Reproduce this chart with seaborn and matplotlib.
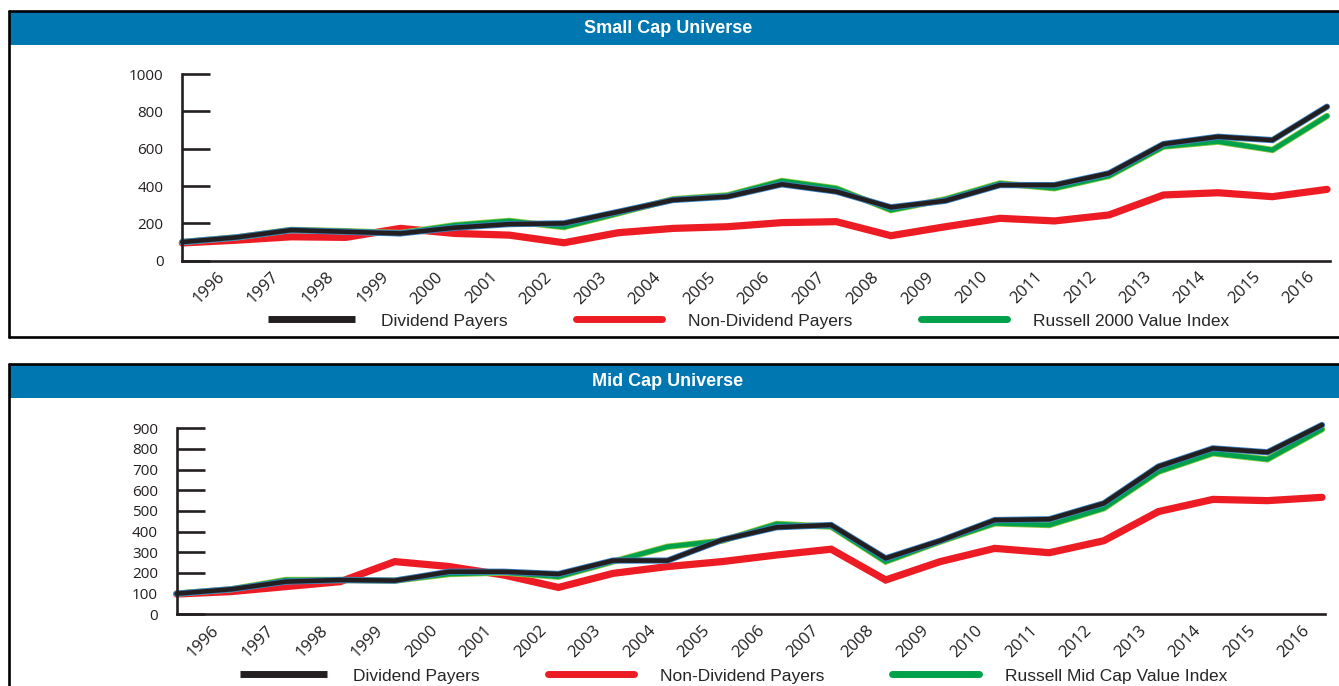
import numpy as np
import pandas as pd
import matplotlib
matplotlib.use('Agg')
import matplotlib.pyplot as plt
import matplotlib.patheffects as pe
import matplotlib.transforms as mtransforms
from matplotlib.lines import Line2D
from matplotlib.patches import Rectangle
import seaborn as sns

# step 0 is the starting value, steps 1..21 are year-ends 1996..2016
steps = list(range(22))
years = [str(y) for y in range(1996, 2017)]

small_div = [100, 125, 164, 155, 146, 177, 196, 200, 262, 325, 343, 409, 370, 286, 321, 405, 405, 468, 625, 664, 646, 825]
small_non = [95, 110, 128, 125, 173, 146, 137, 96, 150, 173, 182, 204, 209, 134, 182, 227, 213, 245, 352, 364, 343, 382]
small_idx = [100, 125, 165, 158, 148, 190, 213, 180, 254, 329, 350, 427, 387, 271, 329, 414, 388, 454, 611, 638, 593, 775]

mid_div = [100, 121, 158, 166, 163, 206, 206, 195, 260, 260, 360, 421, 432, 271, 356, 456, 460, 537, 715, 803, 784, 916]
mid_non = [98, 110, 134, 158, 255, 231, 190, 130, 198, 231, 255, 287, 315, 166, 255, 319, 298, 356, 497, 556, 550, 566]
mid_idx = [100, 121, 166, 166, 163, 195, 202, 182, 255, 327, 356, 437, 424, 255, 352, 440, 432, 513, 690, 779, 750, 895]

BLACK = '#231f20'
RED = '#ed1c24'
GREEN = '#00a14b'
HEADER = '#0077b0'

sns.set_style('white')
plt.rcParams['font.family'] = ['Open Sans', 'DejaVu Sans']

W, H = 1339, 686
fig = plt.figure(figsize=(W / 100, H / 100), dpi=100)


def fx(px):
    return px / W


def fy(py):
    return 1 - py / H


def draw_panel(rect, div, non, idx, ymax, yticks, idx_label, legend_xy, title, header_y):
    ax = fig.add_axes(rect)
    df = pd.DataFrame({'step': steps * 3,
                       'value': non + idx + div,
                       'series': ['Non-Dividend Payers'] * 22 + [idx_label] * 22 + ['Dividend Payers'] * 22})
    # red drawn first, black on top
    sns.lineplot(data=df, x='step', y='value', hue='series',
                 hue_order=['Non-Dividend Payers', idx_label, 'Dividend Payers'],
                 palette=[RED, GREEN, BLACK], legend=False, ax=ax)
    lines = ax.get_lines()
    lines[0].set_linewidth(5.2)
    lines[1].set_linewidth(3.4)
    lines[1].set_path_effects([pe.Stroke(linewidth=4.6, foreground='#8dc63f'), pe.Normal()])
    lines[2].set_linewidth(3.3)
    lines[2].set_path_effects([pe.Stroke(linewidth=4.5, foreground='#3b82c4'), pe.Normal()])
    for ln in lines:
        ln.set_clip_on(False)
        ln.set_solid_joinstyle('miter')

    ax.set_xlim(0, 21)
    ax.set_ylim(0, ymax)
    ax.set_xlabel('')
    ax.set_ylabel('')
    sns.despine(ax=ax)
    for s in ['left', 'bottom']:
        ax.spines[s].set_linewidth(1.9)
        ax.spines[s].set_color(BLACK)
    ax.spines['bottom'].set_bounds(0, 21.05)

    ax.set_yticks(yticks)
    ax.set_yticklabels([str(t) for t in yticks], fontsize=11, color='#231f20')
    ax.tick_params(axis='y', direction='in', length=20, width=1.9, color=BLACK, pad=13.5, left=True)

    ax.set_xticks(steps[1:])
    ax.set_xticklabels(years, rotation=45, ha='right', va='top',
                       rotation_mode='anchor', fontsize=12, color='#231f20')
    ax.tick_params(axis='x', length=0, pad=6)
    offset = mtransforms.ScaledTranslation(-20 / 100, 0, fig.dpi_scale_trans)
    for lab in ax.get_xticklabels():
        lab.set_transform(lab.get_transform() + offset)

    handles = [Line2D([], [], color=BLACK, lw=5, solid_capstyle='butt'),
               Line2D([], [], color=RED, lw=5, solid_capstyle='round'),
               Line2D([], [], color=GREEN, lw=5, solid_capstyle='round')]
    fig.legend(handles, ['Dividend Payers', 'Non-Dividend Payers', idx_label],
               loc='center', bbox_to_anchor=legend_xy, ncol=3, frameon=False,
               handlelength=5.0, handletextpad=1.5, columnspacing=3.9,
               prop={'family': ['Liberation Sans', 'DejaVu Sans'], 'size': 12.5})

    # header band and title
    fig.add_artist(Rectangle((fx(9), fy(header_y + 33)), 1 - fx(9), 33 / H,
                             transform=fig.transFigure, facecolor=HEADER, edgecolor='none'))
    fig.text(fx(668), fy(header_y + 16.5), title, color='white', fontsize=13, fontweight='bold',
             ha='center', va='center', family=['Liberation Sans', 'DejaVu Sans'])
    return ax


draw_panel([fx(182.3), fy(260.7), fx(1327) - fx(182.3), (260.7 - 74) / H],
           small_div, small_non, small_idx, 1000, [0, 200, 400, 600, 800, 1000],
           'Russell 2000 Value Index', (fx(749), fy(321)), 'Small Cap Universe', 12)

draw_panel([fx(176.7), fy(614.3), fx(1322) - fx(176.7), (614.3 - 428.3) / H],
           mid_div, mid_non, mid_idx, 900, list(range(0, 1000, 100)),
           'Russell Mid Cap Value Index', (fx(734), fy(676)), 'Mid Cap Universe', 365)

# panel borders
lw_b = 1.9
for xs, ys in [((fx(8.6), 1), (fy(11), fy(11))),
               ((fx(8.6), fx(8.6)), (fy(11), fy(337.5))),
               ((fx(8.6), 1), (fy(337.5), fy(337.5))),
               ((fx(8.6), 1), (fy(364), fy(364))),
               ((fx(8.6), fx(8.6)), (fy(364), 0))]:
    fig.add_artist(Line2D(xs, ys, transform=fig.transFigure, color='black', lw=lw_b))

fig.savefig('out.png', dpi=100)
